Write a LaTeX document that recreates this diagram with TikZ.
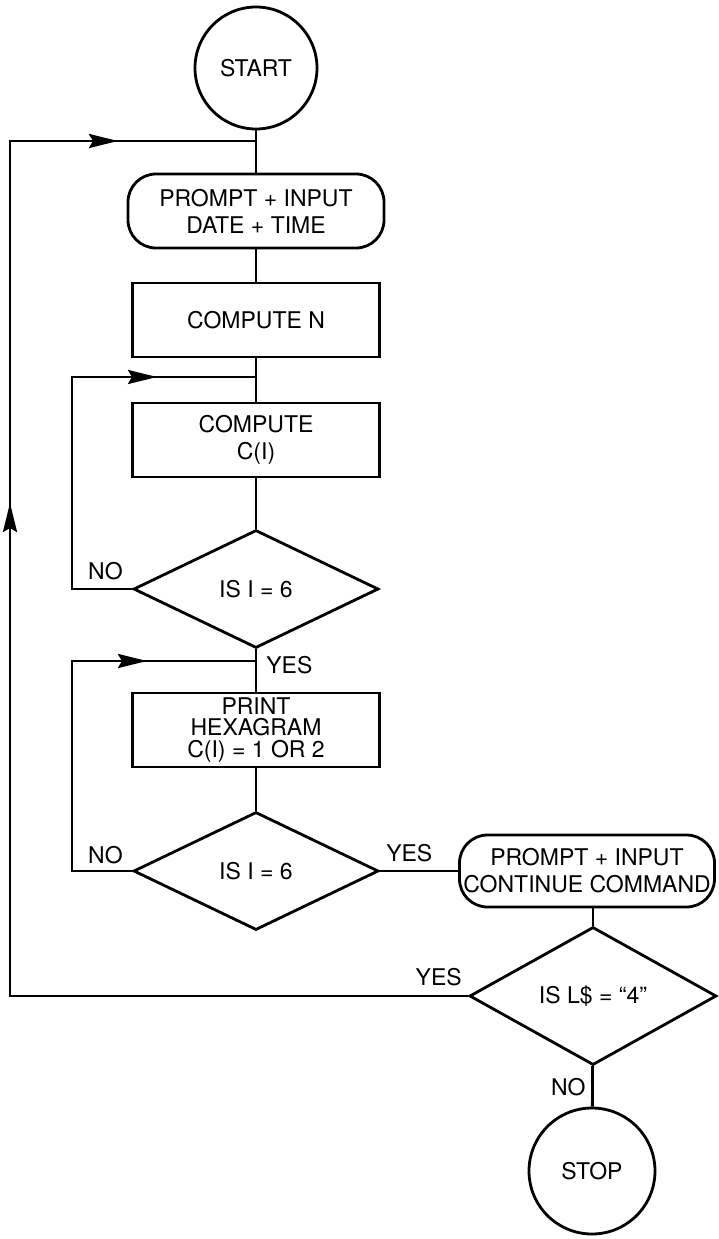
\documentclass[tikz,border=0pt]{standalone}
\usepackage{fontspec}
\setmainfont{TeX Gyre Heros}
\usetikzlibrary{shapes.geometric,arrows.meta,positioning}
\begin{document}
\begin{tikzpicture}[x=1pt,y=1pt,line width=2.8pt,
    every node/.style={font=\fontsize{23}{27}\selectfont},
    term/.style={circle,draw,minimum size=122pt,inner sep=0pt},
    proc/.style={rectangle,draw,minimum width=247pt,minimum height=74pt,inner sep=0pt,align=center},
    io/.style={rectangle,draw,rounded corners=28pt,minimum width=256pt,minimum height=74pt,inner sep=0pt,align=center},
    test/.style={diamond,draw,minimum width=245pt,minimum height=118pt,inner sep=0pt},
    lbl/.style={inner sep=0pt},
    flow/.style={-{Stealth[length=29pt,width=14pt,inset=4pt]}}]
    \useasboundingbox (0,0) rectangle (719,-1239);
    % blocks
    \node[term] (start) at (256,-68) {START};
    \node[io] (date) at (256,-211) {PROMPT + INPUT\\DATE + TIME};
    \node[proc] (compn) at (256,-320) {COMPUTE N};
    \node[proc] (compc) at (256,-440) {COMPUTE\\C(I)};
    \node[test] (test1) at (256,-589) {IS I = 6};
    \node[proc,font=\fontsize{23}{21.5}\selectfont] (print) at (256,-730) {PRINT\\HEXAGRAM\\C(I) = 1 OR 2};
    \node[test] (test2) at (256,-871) {IS I = 6};
    \node[io,minimum width=255pt,minimum height=72pt] (cont) at (587,-871) {PROMPT + INPUT\\CONTINUE COMMAND};
    \node[test,minimum width=247pt,minimum height=138pt] (test3) at (593,-996) {IS L\$ = “4”};
    \node[term,minimum size=126pt] (stop) at (592,-1171) {STOP};
    % joints and corners of the loops
    \coordinate (j0) at (256,-141);
    \coordinate (j1) at (256,-377);
    \coordinate (j2) at (256,-661);
    \coordinate (c0) at (10,-141);
    \coordinate (c1) at (72,-377);
    \coordinate (c2) at (72,-661);
    \coordinate (c3) at (test3.west -| c0);
    \coordinate (t0) at (118,-141); % arrow tips
    \coordinate (t1) at (157,-377);
    \coordinate (t2) at (147,-661);
    \coordinate (t3) at (10,-503);
    % main line
    \draw (start) -- (date) -- (compn) -- (compc) -- (test1) -- (print) -- (test2);
    \draw (test2) -- (cont);
    \draw (cont.south -| test3.north) -- (test3.north);
    \draw (test3) -- (stop);
    % loops back
    \draw (test1.west) -| (c1) -- (j1);
    \draw[flow] (c1) -- (t1);
    \draw (test2.west) -| (c2) -- (j2);
    \draw[flow] (c2) -- (t2);
    \draw (test3.west) -- (c3) -- (c0) -- (j0);
    \draw[flow] (c3) -- (t3);
    \draw[flow] (c0) -- (t0);
    % labels
    \node[lbl,above left=8pt and 8pt of test1.west] (no1) {NO};
    \node[lbl,below right=6pt and 9pt of test1.south] (yes1) {YES};
    \node[lbl,above left=6pt and 8pt of test2.west] (no2) {NO};
    \node[lbl,above right=8pt and 5pt of test2.east] (yes2) {YES};
    \node[lbl,above left=9pt and 5pt of test3.west] (yes3) {YES};
    \node[lbl,below left=11pt and 6pt of test3.south] (no3) {NO};
\end{tikzpicture}
\end{document}
